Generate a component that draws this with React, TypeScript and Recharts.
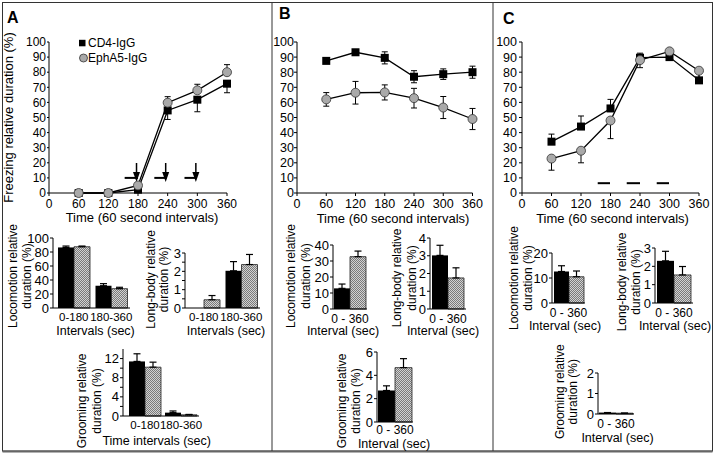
import React from 'react';
import {
  ComposedChart, BarChart, Bar, Line, XAxis, YAxis, ErrorBar,
  ReferenceLine, ReferenceDot, Legend,
} from 'recharts';

const FONT = '"Liberation Sans", Arial, Helvetica, sans-serif';

// ---------------- Freezing time courses ----------------
const timePoints = [60, 120, 180, 240, 300, 360];
const timeTicks = [0, 60, 120, 180, 240, 300, 360];
const freezeTicks = [0, 10, 20, 30, 40, 50, 60, 70, 80, 90, 100];
const seriesNames = ['CD4-IgG', 'EphA5-IgG'];

const freezeA_CD4 = [0, 0, 2.2, 54.7, 61.8, 72.4];
const freezeA_CD4Sem = [0, 0, 1, 6, 8, 6];
const freezeA_Eph = [0, 0, 5, 59.8, 68, 80];
const freezeA_EphSem = [0, 0, 1.5, 4, 4, 5];

const freezeB_CD4 = [87.5, 93.2, 89.5, 77, 78.7, 80];
const freezeB_CD4Sem = [1.5, 1.5, 4, 4, 3.5, 4];
const freezeB_Eph = [62, 66.4, 66.6, 62.8, 56.6, 49];
const freezeB_EphSem = [4.5, 7.5, 5, 6.5, 7.3, 7];

const freezeC_CD4 = [34, 44, 56, 89.6, 90, 74.6];
const freezeC_CD4Sem = [5, 7, 6, 3, 4, 8];
const freezeC_Eph = [22.8, 28, 48, 88, 93.8, 81];
const freezeC_EphSem = [7.7, 8, 12, 5, 2, 5];

// stimulus marks (seconds) and their level (%)
const stimA_start = [153, 213, 274];
const stimA_end = [180, 238, 299];
const stimA_level = 10;
const arrowA_times = [177, 236, 297];
const arrowA_tip = 7.3;
const stimC_start = [154, 213, 274];
const stimC_end = [179, 240, 299];
const stimC_level = 6.5;

// ---------------- Behaviour bar charts ----------------
const intervalsA = ['0-180', '180-360'];
const intervalAll = ['0 - 360'];

const locoA_CD4 = [86.5, 31.8];
const locoA_CD4Sem = [2, 3];
const locoA_Eph = [87.5, 27.6];
const locoA_EphSem = [1, 2];
const longA_CD4 = [0, 2.03];
const longA_CD4Sem = [0, 0.5];
const longA_Eph = [0.45, 2.37];
const longA_EphSem = [0.23, 0.55];
const groomA_CD4 = [11.4, 0.7];
const groomA_CD4Sem = [1.6, 0.35];
const groomA_Eph = [10.2, 0.25];
const groomA_EphSem = [1.05, 0.08];

const locoB_CD4 = [12.9];
const locoB_CD4Sem = [2.7];
const locoB_Eph = [32.7];
const locoB_EphSem = [3.5];
const longB_CD4 = [3.02];
const longB_CD4Sem = [0.57];
const longB_Eph = [1.75];
const longB_EphSem = [0.57];
const groomB_CD4 = [2.7];
const groomB_CD4Sem = [0.4];
const groomB_Eph = [4.66];
const groomB_EphSem = [0.77];

const locoC_CD4 = [12.6];
const locoC_CD4Sem = [2.3];
const locoC_Eph = [10.5];
const locoC_EphSem = [2.3];
const longC_CD4 = [2.3];
const longC_CD4Sem = [0.52];
const longC_Eph = [1.53];
const longC_EphSem = [0.46];
const groomC_CD4 = [0.07];
const groomC_CD4Sem = [0];
const groomC_Eph = [0.04];
const groomC_EphSem = [0];

const ticksLocoA = [0, 20, 40, 60, 80, 100];
const ticksLongA = [0, 0.5, 1, 1.5, 2, 2.5, 3];
const ticksGroomA = [0, 2, 4, 6, 8, 10, 12];
const labelsGroomA = [0, 4, 8, 12];
const ticksLocoB = [0, 10, 20, 30, 40];
const ticksLongB = [0, 1, 2, 3, 4];
const ticksGroomB = [0, 2, 4, 6];
const ticksLocoC = [0, 10, 20];
const ticksLongC = [0, 1, 2, 3];
const ticksGroomC = [0, 1, 2];

// ---------------- helpers ----------------
type Rect = { x: number; y: number; w: number; h: number };
type ErrDir = 'up' | 'down' | 'both';
const YW = 40, MT = 12, MR = 12, XH = 30;

const chartBox = (r: Rect): React.CSSProperties => ({
  position: 'absolute', left: r.x - YW, top: r.y - MT,
  width: r.w + YW + MR, height: r.h + MT + XH,
});
const errPair = (e: number, d: ErrDir) => (d === 'up' ? [0, e] : d === 'down' ? [e, 0] : [e, e]);

const SquareDot = (p: any) => {
  if (p.cx == null || p.cy == null) return <g key={`sq${p.index}`} />;
  return <rect key={`sq${p.index}`} x={p.cx - 4} y={p.cy - 4} width={8} height={8} fill="#000" />;
};
const CircleDot = (p: any) => {
  if (p.cx == null || p.cy == null) return <g key={`ci${p.index}`} />;
  return <circle key={`ci${p.index}`} cx={p.cx} cy={p.cy} r={4.5} fill="#a9a9a9" stroke="#333" strokeWidth={0.8} />;
};
const ArrowShape = (p: any) => (
  <g>
    <line x1={p.cx} y1={p.cy - 19} x2={p.cx} y2={p.cy - 8} stroke="#000" strokeWidth={1.5} />
    <polygon points={`${p.cx - 3.5},${p.cy - 10} ${p.cx + 3.5},${p.cy - 10} ${p.cx},${p.cy}`} fill="#000" />
  </g>
);

const makeCatTick = (size: number) => (p: any) => (
  <text x={p.x} y={p.y} dy="0.71em" textAnchor="middle" fontSize={size} fontFamily={FONT} fill="#000">
    {p.payload && p.payload.value}
  </text>
);

const LegendContent = (p: any) => {
  const items = (p.payload || []).filter((it: any) => seriesNames.includes(it.value));
  return (
    <div style={{ fontFamily: FONT, fontSize: 12, color: '#000' }}>
      {items.map((it: any) => (
        <div key={it.value} style={{ display: 'flex', alignItems: 'center', height: 14.5 }}>
          <svg width={10} height={10}>
            {it.dataKey === 'cd4'
              ? <rect x={1} y={1.8} width={6.5} height={6.5} fill="#000" />
              : <circle cx={5.5} cy={5} r={4} fill="#a9a9a9" stroke="#333" strokeWidth={0.8} />}
          </svg>
          <span>{it.value}</span>
        </div>
      ))}
    </div>
  );
};

function LinePanel(props: {
  rect: Rect; cd4: number[]; cd4Sem: number[]; eph: number[]; ephSem: number[];
  cd4Dir: ErrDir; ephDir: ErrDir; fontSize: number; yTickSize: number; yTickMargin: number;
  stimStart?: number[]; stimEnd?: number[]; stimLevel?: number; arrows?: number[]; legend?: boolean;
}) {
  const { rect } = props;
  const data = timePoints.map((t, i) => ({
    t,
    cd4: props.cd4[i],
    eph: props.eph[i],
    cd4Err: errPair(props.cd4Sem[i], props.cd4Dir),
    ephErr: errPair(props.ephSem[i], props.ephDir),
  }));
  const tickStyle = { fontSize: props.fontSize, fill: '#000', fontFamily: FONT };
  return (
    <div style={chartBox(rect)}>
      <ComposedChart width={rect.w + YW + MR} height={rect.h + MT + XH} data={data}
        margin={{ top: MT, right: MR, bottom: 0, left: 0 }}>
        <XAxis dataKey="t" type="number" domain={[0, 360]} ticks={timeTicks} interval={0} height={XH}
          tickSize={3} tickMargin={3} tick={tickStyle} axisLine={{ stroke: '#000' }} tickLine={{ stroke: '#000' }} />
        <YAxis type="number" domain={[0, 100]} ticks={freezeTicks} interval={0} width={YW}
          tickSize={props.yTickSize} tickMargin={props.yTickMargin} tick={tickStyle}
          axisLine={{ stroke: '#000' }} tickLine={{ stroke: '#000' }} />
        {props.stimStart && props.stimStart.map((s, i) => (
          <ReferenceLine key={`st${i}`} ifOverflow="visible"
            segment={[{ x: s, y: props.stimLevel }, { x: props.stimEnd![i], y: props.stimLevel }]}
            stroke="#000" strokeWidth={2} />
        ))}
        {props.arrows && props.arrows.map((t, i) => (
          <ReferenceDot key={`ar${i}`} x={t} y={arrowA_tip} r={0} ifOverflow="visible" shape={ArrowShape} />
        ))}
        <Line dataKey="cd4" name={seriesNames[0]} stroke="#000" strokeWidth={1.3} dot={SquareDot}
          activeDot={false} isAnimationActive={false}>
          <ErrorBar dataKey="cd4Err" direction="y" width={3} stroke="#000" strokeWidth={1} />
        </Line>
        <Line dataKey="eph" name={seriesNames[1]} stroke="#000" strokeWidth={1.3} dot={CircleDot}
          activeDot={false} isAnimationActive={false}>
          <ErrorBar dataKey="ephErr" direction="y" width={3} stroke="#000" strokeWidth={1} />
        </Line>
        {props.legend && (
          <Legend layout="vertical" align="center" verticalAlign="middle" content={LegendContent}
            wrapperStyle={{ left: 78 - (rect.x - YW), top: 36 - (rect.y - MT), width: 90 }} />
        )}
      </ComposedChart>
    </div>
  );
}

function BarPanel(props: {
  id: string; rect: Rect; cats: string[]; cd4: number[]; cd4Sem: number[]; eph: number[]; ephSem: number[];
  domain: [number, number]; ticks: number[]; labels?: number[]; barSize: number; padLeft?: number;
  catFont?: number; catOffset?: number;
}) {
  const { rect } = props;
  const data = props.cats.map((c, i) => ({
    cat: c,
    cd4: props.cd4[i],
    eph: props.eph[i],
    cd4Err: [0, props.cd4Sem[i]],
    ephErr: [0, props.ephSem[i]],
  }));
  const fmt = (v: number) => {
    if (props.labels) return props.labels.includes(v) ? String(v) : '';
    return Number.isInteger(v) ? String(v) : '';
  };
  return (
    <div style={chartBox(rect)}>
      <BarChart width={rect.w + YW + MR} height={rect.h + MT + XH} data={data} barGap={0}
        margin={{ top: MT, right: MR, bottom: 0, left: 0 }}>
        <defs>
          <pattern id={props.id} width={2} height={2} patternUnits="userSpaceOnUse">
            <rect width={2} height={2} fill="#d2d2d2" />
            <rect width={1} height={1} fill="#7a7a7a" />
            <rect x={1} y={1} width={1} height={1} fill="#7a7a7a" />
          </pattern>
        </defs>
        <XAxis dataKey="cat" type="category" height={XH} interval={0} padding={{ left: props.padLeft || 0, right: 0 }}
          tickLine={false} tickSize={props.catOffset ?? 5} tickMargin={0} axisLine={{ stroke: '#000' }}
          tick={makeCatTick(props.catFont || 12)} />
        <YAxis type="number" domain={props.domain} ticks={props.ticks} interval={0} width={YW}
          tickFormatter={fmt} tickSize={3} tickMargin={1} axisLine={{ stroke: '#000' }} tickLine={{ stroke: '#000' }}
          tick={{ fontSize: 13, fill: '#000', fontFamily: FONT }} />
        <Bar dataKey="cd4" fill="#000" barSize={props.barSize} isAnimationActive={false}>
          <ErrorBar dataKey="cd4Err" direction="y" width={3.5} stroke="#000" strokeWidth={1.2} />
        </Bar>
        <Bar dataKey="eph" fill={`url(#${props.id})`} stroke="#222" strokeWidth={0.8}
          barSize={props.barSize} isAnimationActive={false}>
          <ErrorBar dataKey="ephErr" direction="y" width={3.5} stroke="#000" strokeWidth={1.2} />
        </Bar>
      </BarChart>
    </div>
  );
}

const HText = ({ x, y, size = 12.5, children }: any) => (
  <text x={x} y={y} textAnchor="middle" dominantBaseline="central" fontSize={size} fontFamily={FONT} fill="#000">
    {children}
  </text>
);
const VText = ({ x, y, size = 12, children }: any) => (
  <text x={x} y={y} transform={`rotate(-90 ${x} ${y})`} textAnchor="middle" dominantBaseline="central"
    fontSize={size} fontFamily={FONT} fill="#000">
    {children}
  </text>
);

function Overlay() {
  return (
    <svg width={720} height={459} style={{ position: 'absolute', left: 0, top: 0, pointerEvents: 'none' }}>
      <rect x={2.5} y={2.5} width={710} height={448.5} fill="none" stroke="#333" strokeWidth={1} />
      <line x1={2.5} y1={451.5} x2={712.5} y2={451.5} stroke="#666" strokeWidth={2} />
      <line x1={272} y1={2.5} x2={272} y2={451} stroke="#333" strokeWidth={1} />
      <line x1={493} y1={2.5} x2={493} y2={451} stroke="#333" strokeWidth={1} />

      <text x={7} y={23.3} fontSize={16} fontWeight="bold" fontFamily={FONT}>A</text>
      <text x={279} y={19.3} fontSize={16} fontWeight="bold" fontFamily={FONT}>B</text>
      <text x={503} y={24} fontSize={16} fontWeight="bold" fontFamily={FONT}>C</text>

      <VText x={8} y={117.5} size={13}>Freezing relative duration (%)</VText>
      <HText x={142} y={217.5} size={13}>Time (60 second intervals)</HText>
      <HText x={393} y={218} size={13}>Time (60 second intervals)</HText>
      <HText x={612.5} y={218} size={13}>Time (60 second intervals)</HText>

      <VText x={12.8} y={276}>Locomotion relative</VText>
      <VText x={26.7} y={276}>duration (%)</VText>
      <HText x={95.5} y={331}>Intervals (sec)</HText>

      <VText x={150.7} y={279.5}>Long-body relative</VText>
      <VText x={164.3} y={279.5}>duration (%)</VText>
      <HText x={226} y={331}>Intervals (sec)</HText>

      <VText x={82.3} y={401}>Grooming relative</VText>
      <VText x={96.7} y={401}>duration (%)</VText>
      <HText x={156.7} y={441}>Time intervals (sec)</HText>

      <VText x={291.3} y={276}>Locomotion relative</VText>
      <VText x={305.7} y={276}>duration (%)</VText>
      <HText x={343} y={331}>Interval (sec)</HText>

      <VText x={396.7} y={278}>Long-body relative</VText>
      <VText x={411.7} y={278}>duration (%)</VText>
      <HText x={443} y={331}>Interval (sec)</HText>

      <VText x={341.7} y={401}>Grooming relative</VText>
      <VText x={356} y={401}>duration (%)</VText>
      <HText x={394} y={443.5}>Interval (sec)</HText>

      <VText x={514} y={278}>Locomotion relative</VText>
      <VText x={528} y={278}>duration (%)</VText>
      <HText x={565} y={326}>Interval (sec)</HText>

      <VText x={621.7} y={282}>Long-body relative</VText>
      <VText x={635.7} y={282}>duration (%)</VText>
      <HText x={675} y={326}>Interval (sec)</HText>

      <VText x={560} y={391.7}>Grooming relative</VText>
      <VText x={573} y={391.7}>duration (%)</VText>
      <HText x={617.5} y={437.5}>Interval (sec)</HText>
    </svg>
  );
}

export default function App() {
  return (
    <div style={{ position: 'absolute', left: 0, top: 0, width: 720, height: 459, background: '#fff', fontFamily: FONT }}>
      <LinePanel rect={{ x: 49, y: 42, w: 178, h: 151 }} cd4={freezeA_CD4} cd4Sem={freezeA_CD4Sem}
        eph={freezeA_Eph} ephSem={freezeA_EphSem} cd4Dir="down" ephDir="up" fontSize={12}
        yTickSize={2} yTickMargin={1} stimStart={stimA_start} stimEnd={stimA_end} stimLevel={stimA_level}
        arrows={arrowA_times} legend />
      <LinePanel rect={{ x: 296.5, y: 42, w: 175.5, h: 151 }} cd4={freezeB_CD4} cd4Sem={freezeB_CD4Sem}
        eph={freezeB_Eph} ephSem={freezeB_EphSem} cd4Dir="both" ephDir="both" fontSize={12.5}
        yTickSize={3} yTickMargin={0} />
      <LinePanel rect={{ x: 522, y: 42, w: 177, h: 151 }} cd4={freezeC_CD4} cd4Sem={freezeC_CD4Sem}
        eph={freezeC_Eph} ephSem={freezeC_EphSem} cd4Dir="up" ephDir="down" fontSize={12.5}
        yTickSize={3} yTickMargin={2} stimStart={stimC_start} stimEnd={stimC_end} stimLevel={stimC_level} />

      <BarPanel id="patLocoA" rect={{ x: 53, y: 238, w: 77, h: 70 }} cats={intervalsA} cd4={locoA_CD4}
        cd4Sem={locoA_CD4Sem} eph={locoA_Eph} ephSem={locoA_EphSem} domain={[0, 100]} ticks={ticksLocoA}
        barSize={16} padLeft={2} catFont={11.5} />
      <BarPanel id="patLongA" rect={{ x: 185, y: 253, w: 75, h: 55 }} cats={intervalsA} cd4={longA_CD4}
        cd4Sem={longA_CD4Sem} eph={longA_Eph} ephSem={longA_EphSem} domain={[0, 3]} ticks={ticksLongA}
        barSize={16} catFont={11.5} />
      <BarPanel id="patGroomA" rect={{ x: 123, y: 349, w: 76, h: 67 }} cats={intervalsA} cd4={groomA_CD4}
        cd4Sem={groomA_CD4Sem} eph={groomA_Eph} ephSem={groomA_EphSem} domain={[0, 14]} ticks={ticksGroomA}
        labels={labelsGroomA} barSize={16} padLeft={4} catFont={11.5} />

      <BarPanel id="patLocoB" rect={{ x: 333, y: 245, w: 34, h: 64 }} cats={intervalAll} cd4={locoB_CD4}
        cd4Sem={locoB_CD4Sem} eph={locoB_Eph} ephSem={locoB_EphSem} domain={[0, 40]} ticks={ticksLocoB}
        barSize={16} />
      <BarPanel id="patLongB" rect={{ x: 430, y: 238, w: 36, h: 71 }} cats={intervalAll} cd4={longB_CD4}
        cd4Sem={longB_CD4Sem} eph={longB_Eph} ephSem={longB_EphSem} domain={[0, 4]} ticks={ticksLongB}
        barSize={16} />
      <BarPanel id="patGroomB" rect={{ x: 377, y: 352, w: 36, h: 70 }} cats={intervalAll} cd4={groomB_CD4}
        cd4Sem={groomB_CD4Sem} eph={groomB_Eph} ephSem={groomB_EphSem} domain={[0, 6]} ticks={ticksGroomB}
        barSize={17} catOffset={3.5} />

      <BarPanel id="patLocoC" rect={{ x: 552, y: 253, w: 33, h: 50 }} cats={intervalAll} cd4={locoC_CD4}
        cd4Sem={locoC_CD4Sem} eph={locoC_Eph} ephSem={locoC_EphSem} domain={[0, 20]} ticks={ticksLocoC}
        barSize={15} />
      <BarPanel id="patLongC" rect={{ x: 655, y: 248, w: 38, h: 55 }} cats={intervalAll} cd4={longC_CD4}
        cd4Sem={longC_CD4Sem} eph={longC_Eph} ephSem={longC_EphSem} domain={[0, 3]} ticks={ticksLongC}
        barSize={17} />
      <BarPanel id="patGroomC" rect={{ x: 598, y: 373, w: 36, h: 41 }} cats={intervalAll} cd4={groomC_CD4}
        cd4Sem={groomC_CD4Sem} eph={groomC_Eph} ephSem={groomC_EphSem} domain={[0, 2]} ticks={ticksGroomC}
        barSize={17} />

      <Overlay />
    </div>
  );
}
